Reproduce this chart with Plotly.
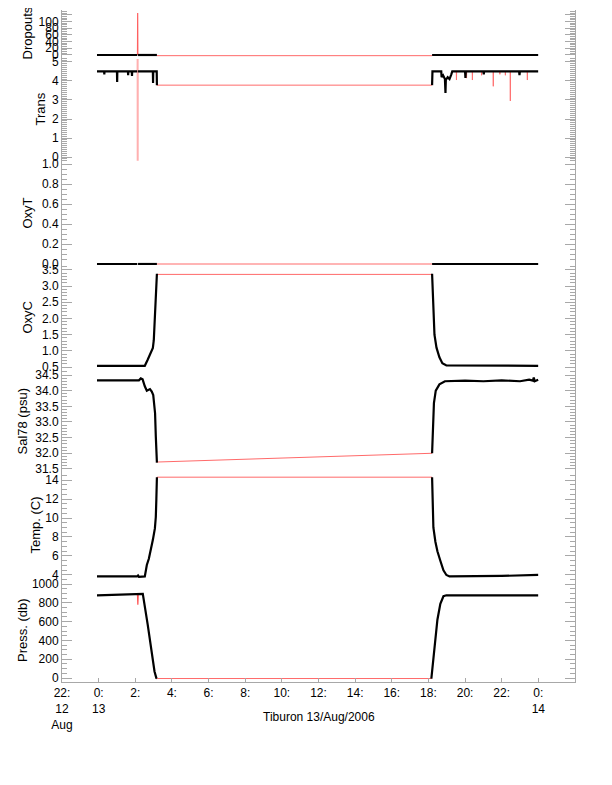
import plotly.graph_objects as go

# ---------------- data (hours from 00:00 13 Aug 2006) ----------------
gap_t = [3.18, 18.2]

drop_pre_t = [-0.09, 2.11, 2.13, 2.15, 3.18]
drop_pre_v = [0, 0, None, 0, 0]
drop_post_t = [18.2, 23.99]
drop_post_v = [0, 0]
drop_gap_v = [-2, -2]
drop_red_t = [2.12, 2.13, 2.14]
drop_red_v = [0, 125, 0]

trans_pre_t = [-0.09, 0.3, 0.31, 0.32, 1.0, 1.01, 1.02, 1.6, 1.61, 1.62, 1.81, 1.82, 1.83,
               2.11, 2.13, 2.15, 2.96, 2.97, 2.98, 3.17, 3.18]
trans_pre_v = [4.5, 4.5, 4.35, 4.5, 4.5, 3.95, 4.5, 4.5, 4.3, 4.5, 4.5, 4.26, 4.5,
               4.5, None, 4.5, 4.5, 3.9, 4.5, 4.5, 3.78]
trans_post_t = [18.2, 18.22, 18.7, 18.72, 18.8, 18.9, 18.93, 18.95, 19.05, 19.15, 19.25, 19.3,
                20.0, 20.02, 20.04, 21.0, 21.02, 21.04, 22.95, 22.97, 22.99, 23.99]
trans_post_v = [3.78, 4.5, 4.5, 4.2, 4.3, 4.1, 3.37, 4.05, 4.2, 4.1, 4.35, 4.5,
                4.5, 4.16, 4.5, 4.5, 4.35, 4.5, 4.5, 4.3, 4.5, 4.5]
trans_gap_v = [3.78, 3.78]
trans_spike_t = [2.125, 2.128, 2.132, 2.135]
trans_spike_v = [4.5, 5.15, -0.2, 4.5]
trans_red_t = [19.52, 19.53, 19.54, None, 20.07, 20.08, 20.09, None, 20.39, 20.4, 20.41, None,
               20.89, 20.9, 20.91, None, 21.53, 21.54, 21.55, None, 21.89, 21.9, 21.91, None,
               22.19, 22.2, 22.21, None, 22.46, 22.47, 22.48, None, 23.39, 23.4, 23.41]
trans_red_v = [4.5, 4.05, 4.5, None, 4.5, 4.15, 4.5, None, 4.5, 4.05, 4.5, None,
               4.5, 4.3, 4.5, None, 4.5, 3.72, 4.5, None, 4.5, 4.35, 4.5, None,
               4.5, 4.3, 4.5, None, 4.5, 2.95, 4.5, None, 4.5, 4.05, 4.5]

oxyt_pre_t = [-0.09, 2.11, 2.13, 2.15, 3.18]
oxyt_pre_v = [0.0, 0.0, None, 0.0, 0.0]
oxyt_post_t = [18.2, 23.99]
oxyt_post_v = [0.0, 0.0]
oxyt_gap_v = [0.0, 0.0]

oxyc_pre_t = [-0.09, 2.52, 2.67, 2.8, 2.96, 3.01, 3.05, 3.08, 3.12, 3.16, 3.18]
oxyc_pre_v = [0.54, 0.54, 0.72, 0.9, 1.09, 1.33, 1.74, 2.26, 2.79, 3.19, 3.38]
oxyc_post_t = [18.2, 18.22, 18.27, 18.33, 18.44, 18.6, 18.76, 18.98, 23.99]
oxyc_post_v = [3.38, 3.0, 2.0, 1.5, 1.1, 0.8, 0.62, 0.55, 0.54]
oxyc_gap_v = [3.36, 3.36]

sal_pre_t = [-0.09, 2.2, 2.3, 2.4, 2.52, 2.63, 2.8, 2.9, 2.98, 3.04, 3.08, 3.12, 3.15, 3.18]
sal_pre_v = [34.33, 34.33, 34.39, 34.36, 34.14, 34.0, 34.05, 33.97, 33.86, 33.6, 33.28, 32.54, 32.1, 31.7]
sal_post_t = [18.2, 18.22, 18.25, 18.3, 18.4, 18.6, 18.9, 20.0, 21.0, 22.0, 23.0, 23.5, 23.7,
              23.75, 23.8, 23.99]
sal_post_v = [32.0, 32.4, 33.0, 33.6, 34.0, 34.2, 34.3, 34.32, 34.3, 34.33, 34.3, 34.35, 34.32,
              34.42, 34.3, 34.35]
sal_gap_v = [31.72, 32.0]

temp_pre_t = [-0.09, 2.1, 2.15, 2.2, 2.52, 2.63, 2.74, 2.85, 2.96, 3.07, 3.12, 3.15, 3.18]
temp_pre_v = [3.85, 3.85, 3.95, 3.8, 3.85, 5.05, 5.7, 6.6, 7.7, 8.9, 10.1, 12.0, 14.3]
temp_post_t = [18.2, 18.22, 18.27, 18.38, 18.49, 18.65, 18.82, 18.98, 19.15, 22.0, 23.0, 23.99]
temp_post_v = [14.3, 11.0, 9.0, 7.5, 6.5, 5.5, 4.5, 4.0, 3.85, 3.9, 3.95, 4.0]
temp_gap_v = [14.3, 14.3]

press_pre_t = [-0.09, 1.5, 2.1, 2.25, 2.41, 2.68, 2.87, 3.05, 3.15, 3.18]
press_pre_v = [880, 885, 892, 895, 895, 565, 320, 70, 0, -5]
press_post_t = [18.16, 18.38, 18.49, 18.65, 18.82, 18.98, 23.99]
press_post_v = [-5, 400, 620, 790, 870, 880, 880]
press_gap_v = [-5, -5]
press_red_t = [2.12, 2.14, 2.16]
press_red_v = [885, 780, 890]

x_tickvals = [-2, 0, 2, 4, 6, 8, 10, 12, 14, 16, 18, 20, 22, 24]
x_ticktext = ["22:<br>12<br>Aug", "0:<br>13", "2:", "4:", "6:", "8:", "10:", "12:", "14:",
              "16:", "18:", "20:", "22:", "0:<br>14"]

# ---------------- figure ----------------
OFF = 8                      # default page body margin
W, H = 596, 769
L, R, T, B = 62 - OFF, 575 - OFF, 10 - OFF, 682 - OFF
PH = B - T

def dom(top_px, bot_px):
    top_px -= OFF
    bot_px -= OFF
    return [(B - bot_px) / PH, (B - top_px) / PH]

panels = [
    ("drop", "y7", "Dropouts", 10, 57, [-6, 134], 20, 5, [0, 20, 40, 60, 80, 100, 120], 27),
    ("trans", "y6", "Trans", 57, 162, [-0.26, 5.26], 1, 0.1, None, 40),
    ("oxyt", "y5", "OxyT", 162, 265, [-0.01, 1.02], 0.2, 0.05, None, 27),
    ("oxyc", "y4", "OxyC", 265, 370, [0.41, 3.65], 0.5, 0.1, None, 27),
    ("sal", "y3", "Sal78 (psu)", 370, 473, [31.37, 34.66], 0.5, 0.1, None, 22),
    ("temp", "y2", "Temp. (C)", 473, 578, [3.68, 14.74], 2, 0.5, None, 35),
    ("press", "y", "Press. (db)", 578, 682, [-42, 1064], 200, 50, None, 22),
]

data = {
    "drop": (drop_pre_t, drop_pre_v, drop_post_t, drop_post_v, drop_gap_v),
    "trans": (trans_pre_t, trans_pre_v, trans_post_t, trans_post_v, trans_gap_v),
    "oxyt": (oxyt_pre_t, oxyt_pre_v, oxyt_post_t, oxyt_post_v, oxyt_gap_v),
    "oxyc": (oxyc_pre_t, oxyc_pre_v, oxyc_post_t, oxyc_post_v, oxyc_gap_v),
    "sal": (sal_pre_t, sal_pre_v, sal_post_t, sal_post_v, sal_gap_v),
    "temp": (temp_pre_t, temp_pre_v, temp_post_t, temp_post_v, temp_gap_v),
    "press": (press_pre_t, press_pre_v, press_post_t, press_post_v, press_gap_v),
}
extra_red = {
    "drop": [(drop_red_t, drop_red_v, "#ff6060", 1.2)],
    "trans": [(trans_spike_t, trans_spike_v, "#ffb0b0", 2), (trans_red_t, trans_red_v, "#ff7070", 1)],
    "press": [(press_red_t, press_red_v, "#ff5050", 1.2)],
}

RED = "#ff6a6a"
GRAY = "#a8a8a8"
fig = go.Figure()
layout = {}
annotations = []
font = dict(family="Liberation Sans, Arial, sans-serif", size=12, color="black")

for key, yname, title, top, bot, rng, dtick, minor, tvals, tx in panels:
    pre_t, pre_v, post_t, post_v, gap_v = data[key]
    fig.add_trace(go.Scatter(x=gap_t, y=gap_v, xaxis="x", yaxis=yname, mode="lines",
                             line=dict(color=RED, width=1), showlegend=False, hoverinfo="skip"))
    for (rt, rv, col, w) in extra_red.get(key, []):
        fig.add_trace(go.Scatter(x=rt, y=rv, xaxis="x", yaxis=yname, mode="lines",
                                 line=dict(color=col, width=w), showlegend=False, hoverinfo="skip"))
    for tt, vv in ((pre_t, pre_v), (post_t, post_v)):
        fig.add_trace(go.Scatter(x=tt, y=vv, xaxis="x", yaxis=yname, mode="lines",
                                 line=dict(color="black", width=2.2), connectgaps=False,
                                 showlegend=False, hoverinfo="skip"))
    axname = "yaxis" if yname == "y" else "yaxis" + yname[1:]
    ax = dict(domain=dom(top, bot), range=rng, anchor="x", showgrid=False, zeroline=False,
              automargin=False,
              showline=True, linecolor=GRAY, linewidth=1, mirror="ticks",
              ticks="inside", ticklen=10, tickcolor=GRAY, tickwidth=1,
              minor=dict(dtick=minor, ticks="inside", ticklen=5, tickcolor=GRAY, tickwidth=1),
              tickfont=font)
    if tvals is not None:
        ax.update(tickmode="array", tickvals=tvals, ticktext=[str(v) for v in tvals])
    else:
        ax.update(tick0=0, dtick=dtick)
        if dtick < 1:
            ax.update(tickformat=".1f")
    layout[axname] = ax
    annotations.append(dict(text=title, xref="paper", yref="paper", textangle=-90,
                            x=(tx - OFF - L) / (R - L), y=(B - ((top + bot) / 2 - OFF)) / PH,
                            showarrow=False, font=dict(family=font["family"], size=13, color="black"),
                            xanchor="center", yanchor="middle"))

annotations.append(dict(text="Tiburon 13/Aug/2006", xref="paper", yref="paper",
                        x=0.5, y=(B - (717 - OFF)) / PH, showarrow=False,
                        font=dict(family=font["family"], size=12, color="black"),
                        xanchor="center", yanchor="middle"))

layout["xaxis"] = dict(domain=[0, 1], range=[-2, 26], anchor="y", showgrid=False, zeroline=False,
                       automargin=False,
                       showline=True, linecolor=GRAY, linewidth=1, mirror=False,
                       ticks="inside", ticklen=4, tickcolor=GRAY,
                       tickmode="array", tickvals=x_tickvals, ticktext=x_ticktext,
                       tickfont=font)

fig.update_layout(width=W, height=H, margin=dict(l=L, r=W - R, t=T, b=H - B),
                  paper_bgcolor="white", plot_bgcolor="white", annotations=annotations,
                  showlegend=False, **layout)

fig.write_html("out.html")
